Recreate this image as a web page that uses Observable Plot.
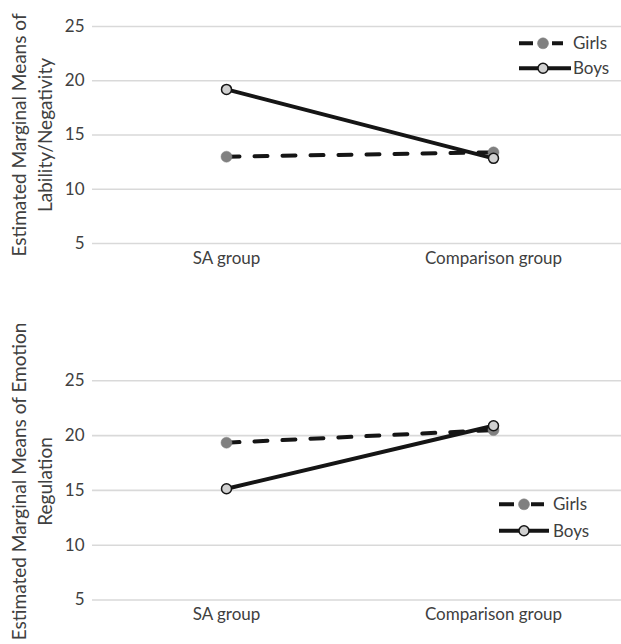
<!DOCTYPE html>
<html>
<head>
<meta charset="utf-8">
<script src="https://cdn.jsdelivr.net/npm/d3@7"></script>
<script src="https://cdn.jsdelivr.net/npm/@observablehq/plot@0.6"></script>
<style>
  html, body { margin: 0; padding: 0; background: #fff; }
  #chart svg { display: block; }
</style>
</head>
<body>
<div id="chart"></div>
<script>
// ---- data ----
const groups = ["SA group", "Comparison group"];
const sexes = ["Girls", "Boys"];
const yTicks = [5, 10, 15, 20, 25];

const labilityGirls = [13.0, 13.4];
const labilityBoys = [19.2, 12.85];

const regulationGirls = [19.35, 20.5];
const regulationBoys = [15.15, 20.9];

const titles = [
  "Estimated Marginal Means of\nLability/Negativity",
  "Estimated Marginal Means of Emotion\nRegulation"
];

// ---- styles ----
const FONT = "Lato, 'Open Sans', sans-serif";
const TEXT = "#404040";
const GRID = "#d9d9d9";
const LINE = "#151515";
const GIRL_DOT = "#808080";
const BOY_DOT = "#d0d0d0";
const DASH = "13,15";

function toRows(girls, boys) {
  const rows = [];
  groups.forEach((g, i) => rows.push({group: g, sex: "Girls", value: girls[i]}));
  groups.forEach((g, i) => rows.push({group: g, sex: "Boys", value: boys[i]}));
  return rows;
}

function panel({girls, boys, title, titleDy, height, marginTop, marginBottom, legend}) {
  const rows = toRows(girls, boys);
  const G = rows.filter(d => d.sex === "Girls");
  const B = rows.filter(d => d.sex === "Boys");
  const svg = Plot.plot({
    width: 621,
    height,
    marginLeft: 92,
    marginRight: 0,
    marginTop,
    marginBottom,
    style: {fontFamily: FONT, color: TEXT, background: "#fff", overflow: "visible"},
    x: {type: "point", domain: groups, range: [226, 493], padding: 0},
    y: {domain: [5, 25], ticks: yTicks},
    marks: [
      Plot.gridY(yTicks, {stroke: GRID, strokeOpacity: 1, strokeWidth: 1.6}),
      Plot.axisY(yTicks, {tickSize: 0, tickPadding: 8, fontSize: 17, label: null, fill: TEXT}),
      Plot.axisX({tickSize: 0, tickPadding: 8, fontSize: 17, label: null, fill: TEXT}),
      Plot.text([title], {text: d => d, frameAnchor: "left", rotate: -90, dx: -62, dy: titleDy,
        textAnchor: "middle", lineAnchor: "middle", lineHeight: 1.35, fontSize: 19, fill: TEXT}),
      Plot.line(G, {x: "group", y: "value", stroke: LINE, strokeWidth: 4, strokeDasharray: DASH, strokeLinecap: "round"}),
      Plot.line(B, {x: "group", y: "value", stroke: LINE, strokeWidth: 4, strokeLinecap: "round"}),
      Plot.dot(G, {x: "group", y: "value", r: 5.5, fill: GIRL_DOT, stroke: GIRL_DOT, strokeWidth: 0.5}),
      Plot.dot(B, {x: "group", y: "value", r: 5, fill: BOY_DOT, stroke: LINE, strokeWidth: 1.5})
    ]
  });
  // legend
  const s = d3.select(svg);
  const lg = s.append("g").attr("font-family", FONT).attr("font-size", 17)
    .attr("fill", TEXT).attr("text-anchor", "start");
  const L = legend;
  sexes.forEach((name, i) => {
    const y = L.y[i];
    const row = lg.append("g");
    row.append("line")
      .attr("x1", L.x1).attr("x2", L.x2[i]).attr("y1", y).attr("y2", y)
      .attr("stroke", LINE).attr("stroke-width", 4)
      .attr("stroke-dasharray", name === "Girls" ? L.dash : null);
    row.append("circle")
      .attr("cx", L.dot).attr("cy", y).attr("r", name === "Girls" ? 5.5 : 5)
      .attr("fill", name === "Girls" ? GIRL_DOT : BOY_DOT)
      .attr("stroke", name === "Girls" ? GIRL_DOT : LINE)
      .attr("stroke-width", name === "Girls" ? 0.5 : 1.5);
    row.append("text")
      .attr("x", L.tx).attr("y", y).attr("dy", "0.35em").attr("text-anchor", "start").text(name);
  });
  return svg;
}

const root = document.getElementById("chart");
root.append(panel({
  girls: labilityGirls, boys: labilityBoys, title: titles[0], titleDy: 0,
  height: 310, marginTop: 26, marginBottom: 67,
  legend: {x1: 519, x2: [563, 571], dot: 543, tx: 573, y: [43.3, 68.3], dash: "14,19,11,100"}
}));
root.append(panel({
  girls: regulationGirls, boys: regulationBoys, title: titles[1], titleDy: -9,
  height: 334, marginTop: 70.3, marginBottom: 44.5,
  legend: {x1: 499, x2: [544, 549], dot: 524, tx: 553, y: [194.3, 220.7], dash: "15,17,13,100"}
}));
</script>
</body>
</html>
